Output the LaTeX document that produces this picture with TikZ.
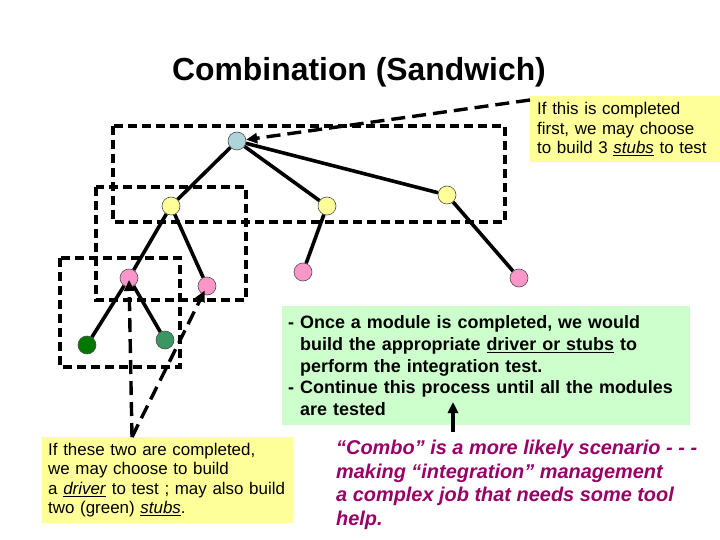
\documentclass[tikz,border=0pt]{standalone}
\usepackage{fontspec}
\setmainfont{Liberation Sans}
\usetikzlibrary{arrows.meta}
\definecolor{modblue}{RGB}{172,212,218}
\definecolor{modyel}{RGB}{255,255,153}
\definecolor{modpink}{RGB}{250,150,200}
\definecolor{moddkgreen}{RGB}{0,120,0}
\definecolor{modgreen}{RGB}{60,150,100}
\definecolor{noteyel}{RGB}{255,255,153}
\definecolor{notegreen}{RGB}{204,255,204}
\definecolor{combopurple}{RGB}{153,0,102}
\tikzset{
  >={Triangle[length=11bp,width=10bp]},
  mod/.style={circle,draw=black!70,line width=0.6pt,minimum size=18bp,inner sep=0pt},
  modtop/.style={mod,fill=modblue},
  modmid/.style={mod,fill=modyel},
  modlow/.style={mod,fill=modpink},
  modleaf/.style={mod,fill=moddkgreen},
  modleafb/.style={mod,fill=modgreen},
  tedge/.style={line width=3.6bp},
  grpbox/.style={draw,line width=3.4bp,dash pattern=on 9bp off 5bp},
  callarr/.style={->,line width=3.4bp,dash pattern=on 14bp off 7bp},
  uparr/.style={->,line width=3.4bp},
  notebox/.style={fill=noteyel,anchor=north west,align=left,inner xsep=6bp,
    inner ysep=0pt,font=\fontsize{17}{19.5}\selectfont},
  stepnote/.style={fill=notegreen,anchor=north west,align=left,inner xsep=6bp,
    inner ysep=0pt,font=\fontsize{18}{21.7}\selectfont\bfseries},
  combotxt/.style={anchor=north west,align=left,inner sep=0pt,text=combopurple,
    font=\fontsize{20}{24}\selectfont\bfseries\itshape},
  titletxt/.style={anchor=base,font=\fontsize{32}{38}\selectfont\bfseries},
}
\begin{document}
\begin{tikzpicture}[x=1bp,y=-1bp]
  \useasboundingbox (0,0) rectangle (720,540);
  \node[titletxt] (title) at (359,81) {Combination (Sandwich)};
  % groups being integrated
  \draw[grpbox] (113,126) rectangle (505,222);
  \draw[grpbox] (96,187) rectangle (246,300);
  \draw[grpbox] (60,258) rectangle (180,367);
  % module tree
  \node[modtop] (root) at (237,141) {};
  \node[modmid] (midA) at (171,206) {};
  \node[modmid] (midB) at (327,206) {};
  \node[modmid] (midC) at (447,195) {};
  \node[modlow] (lowA) at (129,278) {};
  \node[modlow] (lowB) at (207,286) {};
  \node[modlow] (lowC) at (303,272) {};
  \node[modlow] (lowD) at (519,278) {};
  \node[modleaf] (leafA) at (87,345) {};
  \node[modleafb] (leafB) at (165,340) {};
  \draw[tedge] (root)--(midA);
  \draw[tedge] (root)--(midB);
  \draw[tedge] (root)--(midC);
  \draw[tedge] (midA)--(lowA);
  \draw[tedge] (midA)--(lowB);
  \draw[tedge] (midB)--(lowC);
  \draw[tedge] (midC)--(lowD);
  \draw[tedge] (lowA)--(leafA);
  \draw[tedge] (lowA)--(leafB);
  % notes
  \node[notebox,text width=176bp,minimum height=66bp,inner xsep=7bp] (topnote) at (530,96)
    {If this is completed\\first, we may choose\\to build 3 \underline{\textit{stubs}} to test};
  \node[notebox,text width=239bp,minimum height=86bp] (botnote) at (42,437)
    {If these two are completed,\\we may choose to build\\a \underline{\textit{driver}} to test ; may also build\\two (green) \underline{\textit{stubs}}.};
  \node[stepnote,text width=396bp,minimum height=119bp] (stepbox) at (282,306)
    {- Once a module is completed, we would\\
     \hspace*{12bp}build the appropriate \underline{driver or stubs} to\\
     \hspace*{12bp}perform the integration test.\\
     - Continue this process until all the modules\\
     \hspace*{12bp}are tested};
  \node[combotxt] (combo) at (336,439.5)
    {“Combo” is a more likely scenario - - -\\making “integration” management\\a complex job that needs some tool\\help.};
  % pointers
  \coordinate (toppt) at (530,100);
  \coordinate (drvpt) at (132,437);
  \coordinate (upfoot) at (453,432);
  \coordinate (uptip) at (453,402);
  \draw[callarr] (toppt)--(root);
  \draw[callarr,shorten >=2bp] (drvpt)--(lowA.center);
  \draw[callarr,shorten >=5bp] (drvpt)--(lowB.center);
  \draw[uparr] (upfoot)--(uptip);
\end{tikzpicture}
\end{document}
